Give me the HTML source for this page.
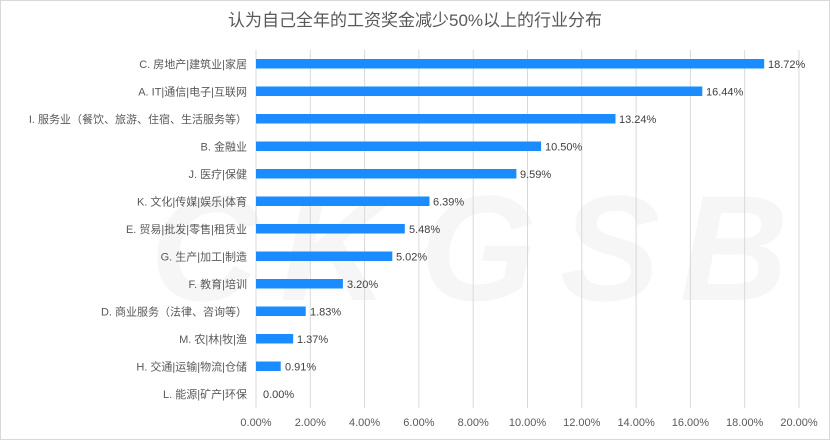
<!DOCTYPE html>
<html><head><meta charset="utf-8"><style>
body{margin:0;background:#fff;}
svg{display:block;font-family:"Liberation Sans","Noto Sans CJK SC",sans-serif;}
</style></head><body>
<svg width="830" height="440" viewBox="0 0 830 440">
<rect x="0.5" y="0.5" width="829" height="439" fill="#fff" stroke="#d9d9d9"/>
<text x="415" y="26" text-anchor="middle" font-size="17" fill="#595959">认为自己全年的工资奖金减少50%以上的行业分布</text>
<g font-size="150" font-style="italic" font-weight="bold" fill="#f6f6f6">
<text x="150" y="300">C</text><text x="280" y="300">K</text><text x="420" y="300">G</text><text x="560" y="300">S</text><text x="680" y="300">B</text>
</g>
<g stroke="#d9d9d9" stroke-width="1">
<line x1="256" y1="50" x2="256" y2="408"/><line x1="310.3" y1="50" x2="310.3" y2="408"/><line x1="364.6" y1="50" x2="364.6" y2="408"/><line x1="418.9" y1="50" x2="418.9" y2="408"/><line x1="473.2" y1="50" x2="473.2" y2="408"/><line x1="527.5" y1="50" x2="527.5" y2="408"/><line x1="581.8" y1="50" x2="581.8" y2="408"/><line x1="636.1" y1="50" x2="636.1" y2="408"/><line x1="690.4" y1="50" x2="690.4" y2="408"/><line x1="744.7" y1="50" x2="744.7" y2="408"/><line x1="799" y1="50" x2="799" y2="408"/>
</g>
<g font-size="11" fill="#595959" text-anchor="middle">
<text x="256" y="426">0.00%</text><text x="310.3" y="426">2.00%</text><text x="364.6" y="426">4.00%</text><text x="418.9" y="426">6.00%</text><text x="473.2" y="426">8.00%</text><text x="527.5" y="426">10.00%</text><text x="581.8" y="426">12.00%</text><text x="636.1" y="426">14.00%</text><text x="690.4" y="426">16.00%</text><text x="744.7" y="426">18.00%</text><text x="799" y="426">20.00%</text>
</g>
<g fill="#1a8cff">
<rect x="256" y="59" width="508.2" height="9.5"/>
<rect x="256" y="86.5" width="446.3" height="9.5"/>
<rect x="256" y="114" width="359.5" height="9.5"/>
<rect x="256" y="141.5" width="285.1" height="9.5"/>
<rect x="256" y="169" width="260.4" height="9.5"/>
<rect x="256" y="196.5" width="173.5" height="9.5"/>
<rect x="256" y="224" width="148.8" height="9.5"/>
<rect x="256" y="251.5" width="136.3" height="9.5"/>
<rect x="256" y="279" width="86.9" height="9.5"/>
<rect x="256" y="306.5" width="49.7" height="9.5"/>
<rect x="256" y="334" width="37.2" height="9.5"/>
<rect x="256" y="361.5" width="24.7" height="9.5"/>
</g>
<g font-size="11" fill="#404040">
<text x="768" y="68">18.72%</text><text x="706" y="95.5">16.44%</text><text x="619" y="123">13.24%</text><text x="545" y="150.5">10.50%</text><text x="520" y="178">9.59%</text><text x="433" y="205.5">6.39%</text><text x="409" y="233">5.48%</text><text x="396" y="260.5">5.02%</text><text x="347" y="288">3.20%</text><text x="310" y="315.5">1.83%</text><text x="297" y="343">1.37%</text><text x="285" y="370.5">0.91%</text><text x="263" y="398">0.00%</text>
</g>
<g font-size="11" fill="#595959" text-anchor="end">
<text x="247" y="68">C. 房地产|建筑业|家居</text>
<text x="247" y="95.5">A. IT|通信|电子|互联网</text>
<text x="247" y="123">I. 服务业（餐饮、旅游、住宿、生活服务等）</text>
<text x="247" y="150.5">B. 金融业</text>
<text x="247" y="178">J. 医疗|保健</text>
<text x="247" y="205.5">K. 文化|传媒|娱乐|体育</text>
<text x="247" y="233">E. 贸易|批发|零售|租赁业</text>
<text x="247" y="260.5">G. 生产|加工|制造</text>
<text x="247" y="288">F. 教育|培训</text>
<text x="247" y="315.5">D. 商业服务（法律、咨询等）</text>
<text x="247" y="343">M. 农|林|牧|渔</text>
<text x="247" y="370.5">H. 交通|运输|物流|仓储</text>
<text x="247" y="398">L. 能源|矿产|环保</text>
</g>
</svg>
</body></html>
